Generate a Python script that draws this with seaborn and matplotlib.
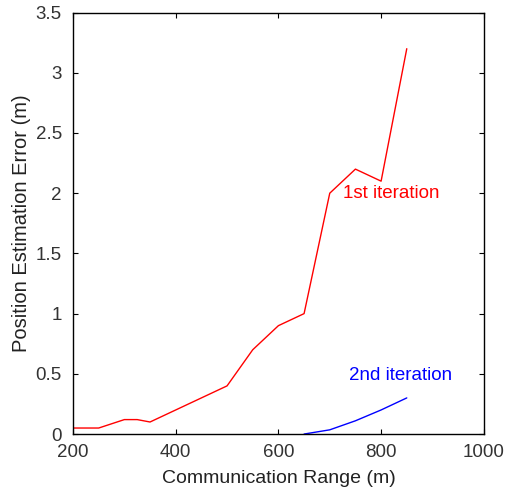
import pandas as pd
import matplotlib
matplotlib.use("Agg")
import matplotlib.pyplot as plt
import seaborn as sns

# data
range_1st = [200, 250, 300, 325, 350, 400, 450, 500, 550, 575, 600, 650, 700, 750, 800, 850]
error_1st = [0.05, 0.05, 0.12, 0.12, 0.10, 0.20, 0.30, 0.40, 0.70, 0.80, 0.90, 1.00, 2.00, 2.20, 2.10, 3.20]
range_2nd = [650, 700, 750, 800, 850]
error_2nd = [0.0, 0.035, 0.11, 0.20, 0.30]
x_ticks = [200, 400, 600, 800, 1000]
y_ticks = [0, 0.5, 1, 1.5, 2, 2.5, 3, 3.5]

df = pd.concat([
    pd.DataFrame({"range": range_1st, "error": error_1st, "iter": "1st iteration"}),
    pd.DataFrame({"range": range_2nd, "error": error_2nd, "iter": "2nd iteration"}),
])

sns.set_theme(style="ticks")
plt.rcParams["font.family"] = ["Liberation Sans", "DejaVu Sans"]
plt.rcParams["xtick.direction"] = "in"
plt.rcParams["ytick.direction"] = "in"

fig = plt.figure(figsize=(5.05, 4.91), dpi=100)
ax = fig.add_axes([0.1446, 0.116, 0.8134, 0.8584])

sns.lineplot(data=df, x="range", y="error", hue="iter",
             palette={"1st iteration": "#ff0000", "2nd iteration": "#0000ff"},
             linewidth=1.0, legend=False, ax=ax)

ax.set_xlim(200, 1000)
ax.set_ylim(0, 3.5)
ax.set_xticks(x_ticks)
ax.set_yticks(y_ticks)
ax.set_yticklabels([f"{v:g}" for v in y_ticks])
ax.tick_params(axis="both", labelsize=13.5, length=3.5, width=0.8, color="black",
               top=True, right=True, labelcolor="#333333")
ax.tick_params(axis="x", pad=7)
ax.tick_params(axis="y", pad=8)
for s in ax.spines.values():
    s.set_color("black")
    s.set_linewidth(1.0)

ax.set_xlabel("Communication Range (m)", fontsize=14, labelpad=7, color="#222222")
ax.set_ylabel("Position Estimation Error (m)", fontsize=14.5, labelpad=3, color="#222222")

ax.text(725, 2.0, "1st iteration", color="#ff0000", fontsize=13.5, va="center")
ax.text(737, 0.49, "2nd iteration", color="#0000ff", fontsize=13.5, va="center")

fig.savefig("out.png", dpi=100)
